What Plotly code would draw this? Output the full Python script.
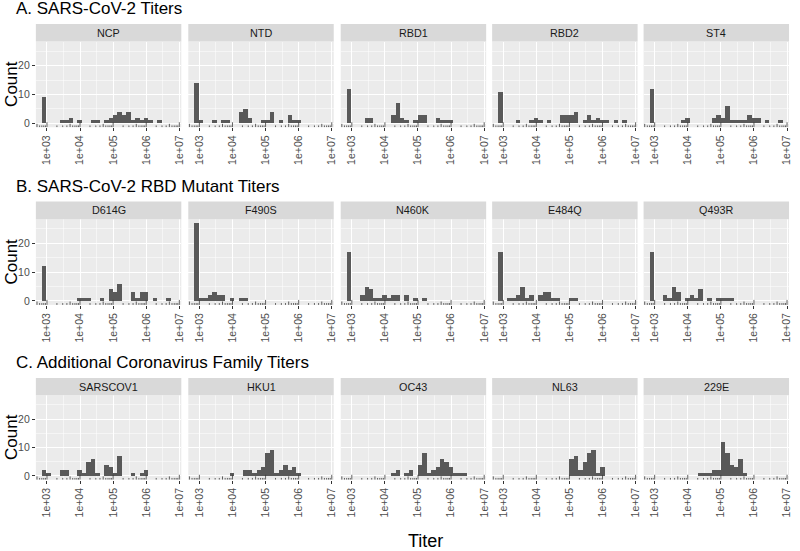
import math
import plotly.graph_objects as go

# ---------------- data ----------------
ROW_TITLES = ["A. SARS-CoV-2 Titers",
              "B. SARS-CoV-2 RBD Mutant Titers",
              "C. Additional Coronavirus Family Titers"]
ROW_PANELS = [["NCP", "NTD", "RBD1", "RBD2", "ST4"],
              ["D614G", "F490S", "N460K", "E484Q", "Q493R"],
              ["SARSCOV1", "HKU1", "OC43", "NL63", "229E"]]

# histogram bins (log10 of titer): 30 bins shared by all panels
BIN_FIRST_CENTER_LOG10 = 2.917
BIN_WIDTH_LOG10 = 0.134
N_BINS = 30

# counts per bin, per panel
NCP      = [9,0,0,0,1,1,2,0,1,0,0,1,1,0,1,2,3,4,3,4,1,2,1,2,1,0,1,0,0,0]
NTD      = [14,1,0,0,1,0,1,1,0,0,4,5,2,0,0,1,1,4,0,1,0,3,1,1,0,0,0,0,0,0]
RBD1     = [12,0,0,0,2,2,0,0,0,0,3,7,2,1,0,1,3,3,0,0,2,1,1,1,0,0,0,0,0,0]
RBD2     = [11,0,0,0,1,0,0,1,2,1,0,1,0,0,3,3,3,4,0,1,3,1,2,1,1,0,1,0,1,0]
ST4      = [12,0,0,0,0,0,0,1,2,0,0,0,0,0,2,3,2,6,1,1,1,1,3,2,2,0,1,0,0,1]
D614G    = [12,0,0,0,0,0,0,0,1,1,1,0,0,1,0,4,3,6,0,0,3,1,3,3,0,1,0,0,1,0]
F490S    = [27,1,1,2,3,2,2,0,1,0,1,1,0,0,0,0,0,0,0,0,0,0,0,0,0,0,0,0,0,0]
N460K    = [17,0,0,2,5,4,1,1,2,1,2,2,0,2,0,1,0,1,0,0,0,0,0,0,0,0,0,0,0,0]
E484Q    = [17,0,1,1,2,5,1,2,0,2,3,3,1,1,0,0,1,1,0,0,0,0,0,0,0,0,0,0,0,0]
Q493R    = [17,0,0,2,1,5,3,0,1,2,1,4,0,1,0,1,1,1,1,0,0,0,0,0,0,0,0,0,0,0]
SARSCOV1 = [2,1,0,0,2,2,0,0,2,1,5,6,1,0,4,3,1,7,0,0,1,0,1,2,0,0,0,0,0,0]
HKU1     = [0,0,0,0,0,0,0,0,1,0,0,2,2,1,2,3,8,9,1,2,4,2,3,1,0,0,0,0,0,0]
OC43     = [0,0,0,0,0,0,0,0,0,0,1,2,0,1,2,0,4,8,1,2,3,6,5,3,1,1,1,0,0,0]
NL63     = [0,0,0,0,0,0,0,0,0,0,0,0,0,0,0,0,6,7,2,5,8,9,1,3,0,0,0,0,0,0]
E229     = [0,0,0,0,0,0,0,0,0,0,0,1,1,1,2,2,12,8,4,3,6,1,0,0,0,0,0,0,0,0]

COUNTS = {"NCP": NCP, "NTD": NTD, "RBD1": RBD1, "RBD2": RBD2, "ST4": ST4,
          "D614G": D614G, "F490S": F490S, "N460K": N460K, "E484Q": E484Q, "Q493R": Q493R,
          "SARSCOV1": SARSCOV1, "HKU1": HKU1, "OC43": OC43, "NL63": NL63, "229E": E229}

X_TICK_VALS = [3, 4, 5, 6, 7]
X_TICK_TEXT = ["1e+03", "1e+04", "1e+05", "1e+06", "1e+07"]
Y_TICK_VALS = [0, 10, 20]

# ---------------- layout constants ----------------
W, H = 800, 551
X_RANGE = [2.665, 7.06]
Y_RANGE = [-1.35, 28.35]
COL_PX = [(36, 182), (189, 335), (342, 488), (494, 640), (646, 792)]
ROW_PX = [dict(title_y=9.0, strip_top=24.0, plot_top=41.7, plot_bot=127.7),
          dict(title_y=186.8, strip_top=202.3, plot_top=220.0, plot_bot=306.0),
          dict(title_y=363.8, strip_top=379.3, plot_top=396.7, plot_bot=481.5)]

FONT = "Liberation Sans, Arial, sans-serif"
BAR_COLOR = "#595959"
PANEL_BG = "#EBEBEB"
STRIP_BG = "#D9D9D9"
AXIS_TEXT = "#4D4D4D"

bin_centers = [BIN_FIRST_CENTER_LOG10 + i * BIN_WIDTH_LOG10 for i in range(N_BINS)]

fig = go.Figure()
layout = dict(width=W, height=H, margin=dict(l=0, r=0, t=0, b=0),
              paper_bgcolor="white", plot_bgcolor=PANEL_BG, showlegend=False,
              font=dict(family=FONT, color=AXIS_TEXT), bargap=0)
shapes, annotations = [], []

# log-tick positions (annotation_logticks style) inside the x range
logticks = []
for d in range(2, 8):
    for k in range(1, 10):
        v = math.log10(k * 10 ** d)
        if X_RANGE[0] <= v <= X_RANGE[1]:
            logticks.append((v, 1 if k == 1 else (2 if k == 5 else 3)))

for r, row in enumerate(ROW_PANELS):
    rp = ROW_PX[r]
    plot_h_px = rp["plot_bot"] - rp["plot_top"]
    unit_per_px = (Y_RANGE[1] - Y_RANGE[0]) / plot_h_px
    tick_len = {1: 5.0 * unit_per_px, 2: 3.4 * unit_per_px, 3: 1.8 * unit_per_px}
    for c, name in enumerate(row):
        n = r * 5 + c + 1
        xa = "x" if n == 1 else f"x{n}"
        ya = "y" if n == 1 else f"y{n}"
        x0, x1 = COL_PX[c]
        fig.add_trace(go.Bar(x=bin_centers, y=COUNTS[name], width=BIN_WIDTH_LOG10,
                             marker=dict(color=BAR_COLOR, line=dict(width=0)),
                             xaxis=xa, yaxis=ya, hoverinfo="skip"))
        lx, ly = [], []
        for v, kind in logticks:
            lx += [v, v, None]
            ly += [Y_RANGE[0], Y_RANGE[0] + tick_len[kind], None]
        fig.add_trace(go.Scatter(x=lx, y=ly, mode="lines",
                                 line=dict(color="#3a3a3a", width=0.8),
                                 xaxis=xa, yaxis=ya, hoverinfo="skip"))
        layout["xaxis" if n == 1 else f"xaxis{n}"] = dict(
            domain=[x0 / W, x1 / W], anchor=ya, range=X_RANGE,
            tickmode="array", tickvals=X_TICK_VALS, ticktext=X_TICK_TEXT,
            tickangle=-90, ticks="outside", ticklen=3, tickwidth=1, tickcolor="#333333",
            tickfont=dict(size=10.5, color=AXIS_TEXT, family=FONT),
            showgrid=True, gridcolor="white", gridwidth=1,
            minor=dict(tickvals=[3.5, 4.5, 5.5, 6.5], showgrid=True,
                       gridcolor="white", gridwidth=0.5),
            zeroline=False, showline=False, fixedrange=True)
        layout["yaxis" if n == 1 else f"yaxis{n}"] = dict(
            domain=[1 - rp["plot_bot"] / H, 1 - rp["plot_top"] / H], anchor=xa,
            range=Y_RANGE, tickmode="array", tickvals=Y_TICK_VALS,
            showticklabels=(c == 0), ticks="outside" if c == 0 else "",
            ticklen=3, tickwidth=1, tickcolor="#333333",
            tickfont=dict(size=10.5, color=AXIS_TEXT, family=FONT),
            showgrid=True, gridcolor="white", gridwidth=1,
            minor=dict(tickvals=[5, 15, 25], showgrid=True, gridcolor="white", gridwidth=0.5),
            zeroline=False, showline=False, fixedrange=True)
        # strip
        shapes.append(dict(type="rect", xref="paper", yref="paper",
                           x0=x0 / W, x1=x1 / W,
                           y0=1 - rp["plot_top"] / H, y1=1 - rp["strip_top"] / H,
                           fillcolor=STRIP_BG, line=dict(width=0)))
        annotations.append(dict(text=name, xref="paper", yref="paper",
                                x=(x0 + x1) / 2 / W,
                                y=1 - (rp["strip_top"] + rp["plot_top"]) / 2 / H,
                                showarrow=False, xanchor="center", yanchor="middle",
                                font=dict(size=10.8, color="#1A1A1A", family=FONT)))
    # row title
    annotations.append(dict(text=ROW_TITLES[r], xref="paper", yref="paper",
                            x=14 / W, y=1 - rp["title_y"] / H, showarrow=False,
                            xanchor="left", yanchor="middle",
                            font=dict(size=17, color="black", family=FONT)))
    # y axis title
    annotations.append(dict(text="Count", xref="paper", yref="paper",
                            x=0, y=1 - (rp["plot_top"] + rp["plot_bot"]) / 2 / H,
                            showarrow=False, textangle=-90, xanchor="left", yanchor="middle",
                            font=dict(size=17, color="black", family=FONT)))

annotations.append(dict(text="Titer", xref="paper", yref="paper",
                        x=427 / W, y=1 - 543 / H, showarrow=False,
                        xanchor="center", yanchor="middle",
                        font=dict(size=18, color="black", family=FONT)))

layout["shapes"] = shapes
layout["annotations"] = annotations
fig.update_layout(**layout)
fig.write_html("out.html",
               config={"displayModeBar": False, "staticPlot": True},
               post_script="document.body.style.margin='0';"
                           "document.body.style.padding='0';"
                           "document.body.style.overflow='hidden';")
